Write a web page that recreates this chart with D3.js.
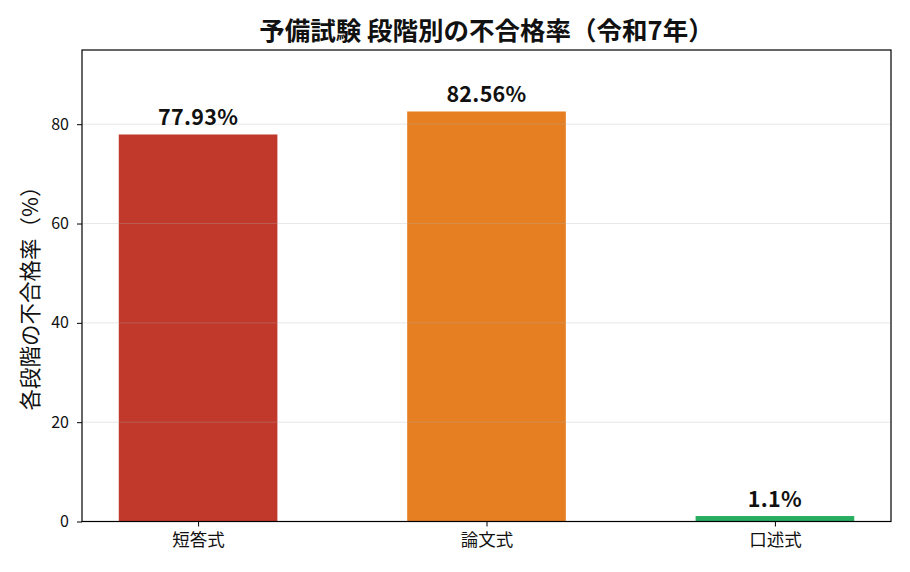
<!DOCTYPE html>
<html>
<head>
<meta charset="utf-8">
<script src="https://cdn.jsdelivr.net/npm/d3@7"></script>
<style>
  body { margin: 0; background: #fff; }
  text { font-family: "Noto Sans CJK JP", "Noto Sans", sans-serif; }
</style>
</head>
<body>
<svg id="chart" width="910" height="572"></svg>
<script>
// data
const stages = ["短答式", "論文式", "口述式"];
const failRates = [77.93, 82.56, 1.1];
const rateLabels = ["77.93%", "82.56%", "1.1%"];
const barColors = ["#c0392b", "#e67e22", "#27ae60"];
const yTicks = [0, 20, 40, 60, 80];

const margin = {top: 50, right: 19, bottom: 50.5, left: 82};
const width = 910 - margin.left - margin.right;
const height = 572 - margin.top - margin.bottom;

const svg = d3.select("#chart");
const g = svg.append("g")
    .attr("transform", "translate(" + margin.left + "," + margin.top + ")");

// x scale like matplotlib: bars of 0.55 width, 5% margins
const xLin = d3.scaleLinear()
    .domain([-0.4025, 2.4025])
    .range([0, width]);
const barW = xLin(0.55) - xLin(0);

const y = d3.scaleLinear()
    .domain([0, 94.94])
    .range([height, 0]);

// bars
g.selectAll("rect.bar")
    .data(failRates)
    .enter().append("rect")
    .attr("class", "bar")
    .attr("x", (d, i) => xLin(i) - barW / 2)
    .attr("y", d => y(d))
    .attr("width", barW)
    .attr("height", d => y(0) - y(d))
    .attr("fill", (d, i) => barColors[i]);

// grid (drawn on top, translucent)
g.selectAll("line.grid")
    .data(yTicks)
    .enter().append("line")
    .attr("class", "grid")
    .attr("x1", 0).attr("x2", width)
    .attr("y1", d => y(d)).attr("y2", d => y(d))
    .attr("stroke", "#b0b0b0")
    .attr("stroke-opacity", 0.3)
    .attr("stroke-width", 1);

// value labels
g.selectAll("text.val")
    .data(failRates)
    .enter().append("text")
    .attr("class", "val")
    .attr("x", (d, i) => xLin(i))
    .attr("y", d => y(d) - 9)
    .attr("text-anchor", "middle")
    .attr("font-size", 21.5)
    .attr("font-weight", "bold")
    .attr("letter-spacing", 0.3)
    .attr("fill", "#111")
    .text((d, i) => rateLabels[i]);

// axes
const yAxis = g.append("g")
    .call(d3.axisLeft(y).tickValues(yTicks).tickSize(5).tickPadding(8));
yAxis.selectAll("text").attr("font-size", 16).attr("fill", "#111");

const xAxis = g.append("g")
    .attr("transform", "translate(0," + height + ")")
    .call(d3.axisBottom(xLin).tickValues([0, 1, 2]).tickSize(5).tickPadding(7)
        .tickFormat(i => stages[i]));
xAxis.selectAll("text").attr("font-size", 17.5).attr("fill", "#111");

svg.selectAll(".domain").remove();
svg.selectAll(".tick line").attr("stroke", "#000").attr("stroke-width", 1);

// frame
g.append("rect")
    .attr("x", 0).attr("y", 0)
    .attr("width", width).attr("height", height)
    .attr("fill", "none")
    .attr("stroke", "#000")
    .attr("stroke-width", 1.2);

// title
svg.append("text")
    .attr("x", margin.left + width / 2)
    .attr("y", 40)
    .attr("text-anchor", "middle")
    .attr("font-size", 25.5)
    .attr("font-weight", "bold")
    .attr("fill", "#111")
    .text("予備試験 段階別の不合格率（令和7年）");

// y label
svg.append("text")
    .attr("transform", "translate(38,293) rotate(-90)")
    .attr("text-anchor", "middle")
    .attr("font-size", 21.5)
    .attr("fill", "#111")
    .text("各段階の不合格率（%）");
</script>
</body>
</html>
